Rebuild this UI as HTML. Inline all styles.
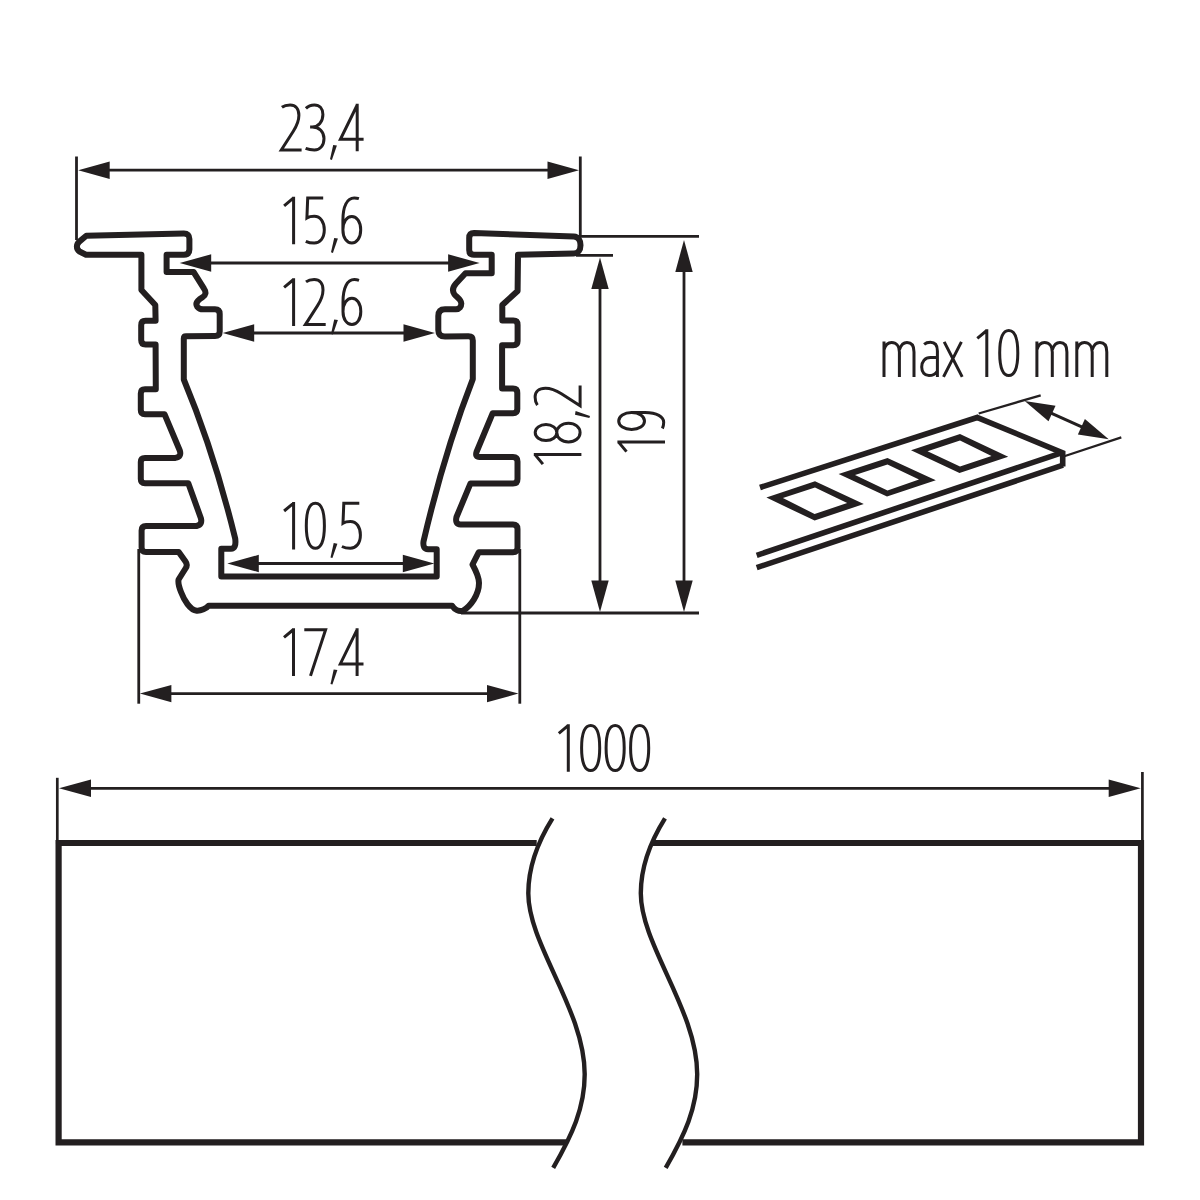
<!DOCTYPE html>
<html><head><meta charset="utf-8"><style>
html,body{margin:0;padding:0;background:#fff;}
svg{display:block;}
</style></head><body>
<svg width="1200" height="1200" viewBox="0 0 1200 1200">
<rect width="1200" height="1200" fill="#fff"/>
<g fill="none" stroke="#231f20" stroke-width="3.0" stroke-linecap="butt" stroke-linejoin="miter" stroke-miterlimit="4">
<path d="M1.4,-44 C3.5,-45.6 6.3,-46.3 9.6,-46.3 C15,-46.3 18.4,-42.5 18.4,-36 C18.4,-30 16,-25 12.8,-20 L0.8,-1.3 L21.1,-1.3" transform="translate(280.5,151.3)"/>
<path d="M1.6,-42.9 C3.8,-45.2 6.8,-46.3 10.1,-46.3 C15.3,-46.3 18.6,-42.5 18.6,-36.8 C18.6,-29.5 14,-24.3 8,-24.3 L5.8,-24.3 M8,-24.3 C15,-24.3 19.7,-19.5 19.7,-12.8 C19.7,-5.8 15.8,-1.3 10.1,-1.3 C6.8,-1.3 3.8,-1.9 1.3,-2.9" transform="translate(304.3,151.3)"/>
<path d="M3.2,-6.4 L6.9,-5.8 L1.9,8.6 L0,8 Z" transform="translate(330,151.3)" fill="#231f20" stroke="none"/>
<path d="M24,-12 L0.8,-12 L17.6,-46.3 M17.6,-47.6 L17.6,0" transform="translate(339.6,151.3)"/>
<path d="M0.8,-38.5 L10.3,-46.4 M10.3,-47.6 L10.3,0" transform="translate(283.3,244.3)"/>
<path d="M17.8,-46.2 L2.3,-46.2 L1.5,-26.3 C3.5,-27.5 6,-28 8.8,-28 C15,-28 18.9,-22.5 18.9,-14.5 C18.9,-6 14.5,-1.3 8.8,-1.3 C5.5,-1.3 2.5,-2 0.4,-3" transform="translate(305.4,244.3)"/>
<path d="M3.2,-6.4 L6.9,-5.8 L1.9,8.6 L0,8 Z" transform="translate(331,244.3)" fill="#231f20" stroke="none"/>
<path d="M17.3,-45.6 C15.8,-46.1 14.3,-46.3 12.6,-46.3 C5.5,-46.3 1.3,-38 1.3,-24 L1.3,-14.5 M10.2,-27.7 C15.2,-27.7 19.1,-22.5 19.1,-14.5 C19.1,-6.5 15.2,-1.3 10.2,-1.3 C5.2,-1.3 1.3,-6.5 1.3,-14.5 C1.3,-22.5 5.2,-27.7 10.2,-27.7 Z" transform="translate(341.6,244.3)"/>
<path d="M0.8,-38.5 L10.3,-46.4 M10.3,-47.6 L10.3,0" transform="translate(283.3,325.9)"/>
<path d="M1.4,-44 C3.5,-45.6 6.3,-46.3 9.6,-46.3 C15,-46.3 18.4,-42.5 18.4,-36 C18.4,-30 16,-25 12.8,-20 L0.8,-1.3 L21.1,-1.3" transform="translate(304.6,325.9)"/>
<path d="M3.2,-6.4 L6.9,-5.8 L1.9,8.6 L0,8 Z" transform="translate(331,325.9)" fill="#231f20" stroke="none"/>
<path d="M17.3,-45.6 C15.8,-46.1 14.3,-46.3 12.6,-46.3 C5.5,-46.3 1.3,-38 1.3,-24 L1.3,-14.5 M10.2,-27.7 C15.2,-27.7 19.1,-22.5 19.1,-14.5 C19.1,-6.5 15.2,-1.3 10.2,-1.3 C5.2,-1.3 1.3,-6.5 1.3,-14.5 C1.3,-22.5 5.2,-27.7 10.2,-27.7 Z" transform="translate(341.7,325.9)"/>
<path d="M0.8,-38.5 L10.3,-46.4 M10.3,-47.6 L10.3,0" transform="translate(283.3,549.5)"/>
<path d="M10.4,-46.3 C15.65,-46.3 19.4,-40 19.4,-23.8 C19.4,-7.6 15.65,-1.3 10.4,-1.3 C5.15,-1.3 1.3,-7.6 1.3,-23.8 C1.3,-40 5.15,-46.3 10.4,-46.3 Z" transform="translate(305,549.5)"/>
<path d="M3.2,-6.4 L6.9,-5.8 L1.9,8.6 L0,8 Z" transform="translate(330.5,549.5)" fill="#231f20" stroke="none"/>
<path d="M17.8,-46.2 L2.3,-46.2 L1.5,-26.3 C3.5,-27.5 6,-28 8.8,-28 C15,-28 18.9,-22.5 18.9,-14.5 C18.9,-6 14.5,-1.3 8.8,-1.3 C5.5,-1.3 2.5,-2 0.4,-3" transform="translate(341.5,549.5)"/>
<path d="M0.8,-38.5 L10.3,-46.4 M10.3,-47.6 L10.3,0" transform="translate(283.2,675.9)"/>
<path d="M0.8,-46.2 L22.1,-46.2 L7,0" transform="translate(303.5,675.9)"/>
<path d="M3.2,-6.4 L6.9,-5.8 L1.9,8.6 L0,8 Z" transform="translate(330.5,675.9)" fill="#231f20" stroke="none"/>
<path d="M24,-12 L0.8,-12 L17.6,-46.3 M17.6,-47.6 L17.6,0" transform="translate(339.5,675.9)"/>
<path d="M0.8,-38.5 L10.3,-46.4 M10.3,-47.6 L10.3,0" transform="translate(558.0,771.8)"/>
<path d="M10.4,-46.3 C15.65,-46.3 19.4,-40 19.4,-23.8 C19.4,-7.6 15.65,-1.3 10.4,-1.3 C5.15,-1.3 1.3,-7.6 1.3,-23.8 C1.3,-40 5.15,-46.3 10.4,-46.3 Z" transform="translate(580.3,771.8)"/>
<path d="M10.4,-46.3 C15.65,-46.3 19.4,-40 19.4,-23.8 C19.4,-7.6 15.65,-1.3 10.4,-1.3 C5.15,-1.3 1.3,-7.6 1.3,-23.8 C1.3,-40 5.15,-46.3 10.4,-46.3 Z" transform="translate(604.8,771.8)"/>
<path d="M10.4,-46.3 C15.65,-46.3 19.4,-40 19.4,-23.8 C19.4,-7.6 15.65,-1.3 10.4,-1.3 C5.15,-1.3 1.3,-7.6 1.3,-23.8 C1.3,-40 5.15,-46.3 10.4,-46.3 Z" transform="translate(629.3,771.8)"/>
<path d="M1.4,0 L1.4,-35.3 M1.4,-27 C3,-32.5 5.8,-34.4 9,-34.4 C13.5,-34.4 16.8,-31 16.8,-25 L16.8,0 M16.8,-27 C18.5,-32.5 21.2,-34.4 24.4,-34.4 C29,-34.4 31.4,-31 31.4,-25 L31.4,0" transform="translate(882.6,376.9)"/>
<path d="M3.7,-32.6 C5.5,-34.1 7.5,-34.6 10,-34.6 C14.5,-34.6 17,-31.5 17,-26 L17,0 M17,-19.4 L10,-19.4 C4.5,-19.4 1.3,-15.5 1.3,-9.8 C1.3,-4.5 4.3,-1.3 8.5,-1.3 C12.5,-1.3 15.5,-3.5 17,-6" transform="translate(920.4,376.9)"/>
<path d="M1,-35 L19,0 M18.2,-35 L0.3,0" transform="translate(943.2,376.9)"/>
<path d="M0.8,-38.5 L10.3,-46.4 M10.3,-47.6 L10.3,0" transform="translate(976.5,376.9)"/>
<path d="M10.4,-46.3 C15.65,-46.3 19.4,-40 19.4,-23.8 C19.4,-7.6 15.65,-1.3 10.4,-1.3 C5.15,-1.3 1.3,-7.6 1.3,-23.8 C1.3,-40 5.15,-46.3 10.4,-46.3 Z" transform="translate(998.4,376.9)"/>
<path d="M1.4,0 L1.4,-35.3 M1.4,-27 C3,-32.5 5.8,-34.4 9,-34.4 C13.5,-34.4 16.8,-31 16.8,-25 L16.8,0 M16.8,-27 C18.5,-32.5 21.2,-34.4 24.4,-34.4 C29,-34.4 31.4,-31 31.4,-25 L31.4,0" transform="translate(1035.5,376.9)"/>
<path d="M1.4,0 L1.4,-35.3 M1.4,-27 C3,-32.5 5.8,-34.4 9,-34.4 C13.5,-34.4 16.8,-31 16.8,-25 L16.8,0 M16.8,-27 C18.5,-32.5 21.2,-34.4 24.4,-34.4 C29,-34.4 31.4,-31 31.4,-25 L31.4,0" transform="translate(1075.4,376.9)"/>
<g transform="translate(581.4,464.9) rotate(-90)"><path d="M0.8,-38.5 L10.3,-46.4 M10.3,-47.6 L10.3,0" transform="translate(0,0)"/>
<path d="M10.7,-46.2 C15.3,-46.2 18.7,-41.5 18.7,-35.4 C18.7,-29.3 15.3,-24.6 10.7,-24.6 C6.1,-24.6 2.7,-29.3 2.7,-35.4 C2.7,-41.5 6.1,-46.2 10.7,-46.2 Z M10.7,-24.6 C16,-24.6 20.1,-19.5 20.1,-12.9 C20.1,-6.3 16,-1.3 10.7,-1.3 C5.4,-1.3 1.3,-6.3 1.3,-12.9 C1.3,-19.5 5.4,-24.6 10.7,-24.6 Z" transform="translate(21.6,0)"/>
<path d="M3.2,-6.4 L6.9,-5.8 L1.9,8.6 L0,8 Z" transform="translate(47,0)" fill="#231f20" stroke="none"/>
<path d="M1.4,-44 C3.5,-45.6 6.3,-46.3 9.6,-46.3 C15,-46.3 18.4,-42.5 18.4,-36 C18.4,-30 16,-25 12.8,-20 L0.8,-1.3 L21.1,-1.3" transform="translate(58.35,0)"/></g>
<g transform="translate(665,452.4) rotate(-90)"><path d="M0.8,-38.5 L10.3,-46.4 M10.3,-47.6 L10.3,0" transform="translate(0,0)"/>
<path d="M9.8,-46.3 C14.7,-46.3 18.3,-40.8 18.3,-33.4 C18.3,-26 14.7,-20.5 9.8,-20.5 C4.9,-20.5 1.3,-26 1.3,-33.4 C1.3,-40.8 4.9,-46.3 9.8,-46.3 Z M18.3,-33.4 L18.3,-20 C18.3,-8 14,-1.3 8.5,-1.3 C6,-1.3 4,-1.8 2.3,-2.6" transform="translate(21.6,0)"/></g>
</g>
<g stroke="#231f20" fill="none" stroke-linecap="butt">
<line x1="76.5" y1="156.5" x2="76.5" y2="240" stroke-width="2.8"/>
<line x1="580.3" y1="156.5" x2="580.3" y2="236.5" stroke-width="2.8"/>
<line x1="100" y1="170.2" x2="560" y2="170.2" stroke-width="2.8"/>
<path d="M78.20,170.20 L109.70,161.50 L109.70,178.90 Z" fill="#231f20" stroke="none"/>
<path d="M579.00,170.20 L547.50,178.90 L547.50,161.50 Z" fill="#231f20" stroke="none"/>
<line x1="205" y1="263" x2="455" y2="263" stroke-width="2.8"/>
<path d="M179.70,263.00 L211.20,254.30 L211.20,271.70 Z" fill="#231f20" stroke="none"/>
<path d="M479.60,263.00 L448.10,271.70 L448.10,254.30 Z" fill="#231f20" stroke="none"/>
<line x1="245" y1="333" x2="415" y2="333" stroke-width="2.8"/>
<path d="M222.70,333.00 L254.20,324.30 L254.20,341.70 Z" fill="#231f20" stroke="none"/>
<path d="M435.00,333.00 L403.50,341.70 L403.50,324.30 Z" fill="#231f20" stroke="none"/>
<line x1="250" y1="563.5" x2="410" y2="563.5" stroke-width="2.8"/>
<path d="M227.30,563.50 L258.80,554.80 L258.80,572.20 Z" fill="#231f20" stroke="none"/>
<path d="M434.30,563.50 L402.80,572.20 L402.80,554.80 Z" fill="#231f20" stroke="none"/>
<line x1="138.75" y1="549" x2="138.75" y2="703.7" stroke-width="2.8"/>
<line x1="519.8" y1="549" x2="519.8" y2="703.7" stroke-width="2.8"/>
<line x1="160" y1="693.6" x2="500" y2="693.6" stroke-width="2.8"/>
<path d="M139.90,693.60 L171.40,684.90 L171.40,702.30 Z" fill="#231f20" stroke="none"/>
<path d="M518.50,693.60 L487.00,702.30 L487.00,684.90 Z" fill="#231f20" stroke="none"/>
<line x1="580" y1="236.3" x2="699" y2="236.3" stroke-width="2.8"/>
<line x1="576" y1="255.4" x2="613" y2="255.4" stroke-width="2.8"/>
<line x1="461" y1="613" x2="699" y2="613" stroke-width="2.8"/>
<line x1="600" y1="270" x2="600" y2="600" stroke-width="2.8"/>
<path d="M600.00,257.60 L608.70,289.10 L591.30,289.10 Z" fill="#231f20" stroke="none"/>
<path d="M600.00,611.90 L591.30,580.40 L608.70,580.40 Z" fill="#231f20" stroke="none"/>
<line x1="684" y1="250" x2="684" y2="600" stroke-width="2.8"/>
<path d="M684.00,239.90 L692.70,271.90 L675.30,271.90 Z" fill="#231f20" stroke="none"/>
<path d="M684.00,611.90 L675.30,580.40 L692.70,580.40 Z" fill="#231f20" stroke="none"/>
<line x1="57.3" y1="777.8" x2="57.3" y2="844" stroke-width="2.7"/>
<line x1="1142.4" y1="772" x2="1142.4" y2="844" stroke-width="2.7"/>
<line x1="80" y1="788.3" x2="1120" y2="788.3" stroke-width="2.8"/>
<path d="M59.00,788.30 L91.00,779.60 L91.00,797.00 Z" fill="#231f20" stroke="none"/>
<path d="M1140.70,788.30 L1108.70,797.00 L1108.70,779.60 Z" fill="#231f20" stroke="none"/>
</g>
<path d="M86,254.7 L79.5,251.5 Q76.8,249.6 76.9,246.4 Q77,243.5 79.3,241.6 L86.3,235.8
L183.8,233.5 Q189.4,233.4 189.4,239 L189.4,249.5 Q189.4,254.7 184,254.7 L166.6,254.7 L166.6,271.9 L193.5,271.9 L204,288.6
Q207.6,294 202.5,297.3 L199.5,299.3 Q194.8,303 197.3,306.8 Q199.3,309.3 203,309.3
L215,309.3 Q219.7,309.3 219.7,314 L219.7,331.5 Q219.7,336.1 215,336.1 L186,336.3 Q183.8,336.3 183.8,338.5 L183.8,379.5
Q214,452 235.2,538.5 Q236.5,548.8 231,548.8 L221.3,548.8 L221.3,576.4 L436.7,576.4 L436.7,549.3 L428,549.3 Q422.6,549.3 423.5,541.5
Q444.4,452 472.8,379.1 L472.8,340.5 Q472.8,336.3 468.5,336.3 L445,336.5 Q438.3,336.5 438.3,330 L438.3,316 Q438.3,309.2 445,309.2 L456,309.2
C459.5,309.2 461.3,306.5 461.3,303.5 C461.3,299.5 456.5,297 454.5,294.5 C452,291 452.5,287.5 456,283.5 L465.5,273.2 L491.7,273.2 L491.7,254.8
L474,254.8 Q469.2,254.8 469.2,250 L469.2,238 Q469.2,233 474,233
L573.8,236.5 C578.5,236.8 580.5,240.5 580.5,245.2 C580.5,250 578,253.4 573.8,253.5
L518,254.7 L517.6,291 L502.3,305 L502.3,320.6 L513.3,320.6 Q517.6,320.6 517.6,325 L517.6,341 Q517.6,345.3 513.2,345.3 L502.1,345.3 L502.1,388.6 L513,388.6 Q517.3,388.6 517.3,393 L517.3,409 Q517.3,413.3 513,413.3 L492.6,413.3 L476.5,452
Q475,457 479.5,457 L513,457 Q517.5,457 517.5,461.5 L517.5,479 Q517.5,483.6 513,483.6 L470.4,483.6 L456.5,517
Q454.8,524.4 460.5,524.4 L513,524.4 Q517.5,524.4 517.5,529 L517.5,547.8 Q517.5,552.3 513,552.3 L478.7,552.3 L472.5,564.5
C475.5,570 479,577 479,583 C479,595 470.5,606 463.3,610.5 C459,612.2 454.5,609.5 452,605.7
L208.7,605.7 C206.5,608.5 201,611 196.7,610.7 C190,610 184,600 181,592 C179,587 177.8,583 178.6,579.5 L185.5,568.5 Q188,565 185.5,561.5 L178.7,552
L146,552 Q141.6,552 141.6,547.5 L141.6,530.5 Q141.6,526 146,526 L196.5,526 Q202.8,524.5 200.8,518 L188.3,483.2
L145,483.2 Q140.8,483.2 140.8,479 L140.8,462 Q140.8,457.9 145,457.9 L175.5,457.9 Q181.8,456.8 179.8,450.5 L164.6,414.3
L145,414.3 Q140.8,414.3 140.8,410 L140.8,393.5 Q140.8,389.2 145,389.2 L155.8,389.2 L155.6,344.4 L145.5,344.4 Q141.2,344.4 141.2,340 L141.2,325.2 Q141.2,320.8 145.5,320.8 L155.6,320.8 L155.3,305 L141.4,290 L141.4,254.7 Z" fill="none" stroke="#231f20" stroke-width="6.0" stroke-linejoin="round"/>
<g stroke="#231f20" fill="none" stroke-linecap="butt">

<path d="M536.7,843 L58.6,843 L58.6,1142.3 L567,1142.3" stroke-width="6.2" fill="none" stroke-linejoin="miter"/>
<path d="M651.7,843 L1141,843 L1141,1142.3 L682.4,1142.3" stroke-width="6.2" fill="none" stroke-linejoin="miter"/>
<path d="M552.5,818.3 C537,843 528.3,870 528.3,893.3 C528.3,945 584.7,1010 584.7,1074.3 C584.7,1108 572,1135 553.2,1167.8" stroke-width="4.4" fill="none"/>
<path d="M665,818.3 C649.5,843 640.8,870 640.8,893.3 C640.8,945 697.2,1010 697.2,1074.3 C697.2,1108 684.5,1135 665.7,1167.8" stroke-width="4.4" fill="none"/>

</g>
<g stroke="#231f20" fill="none" stroke-linecap="butt">
<line x1="760" y1="487.5" x2="978.7" y2="417" stroke-width="5.6"/>
<line x1="756.7" y1="555.3" x2="1060" y2="453.3" stroke-width="5.6"/>
<line x1="756.7" y1="567.6" x2="1063" y2="465.2" stroke-width="5.6"/>
<polyline points="977,417.3 1062.7,452.9 1062.7,466.5" stroke-width="5.6" stroke-linejoin="miter"/>
<line x1="978.7" y1="413.5" x2="1040.7" y2="395.3" stroke-width="2.3"/>
<line x1="1062" y1="457" x2="1121.3" y2="437.3" stroke-width="2.3"/>
<line x1="1050" y1="412.6" x2="1083.4" y2="427.7" stroke-width="3"/>
</g>
<g fill="#231f20" fill-rule="evenodd">
<path d="M1024.70,401.10 L1055.53,405.75 L1048.51,421.23 Z"/>
<path d="M1108.70,439.20 L1077.87,434.55 L1084.89,419.07 Z"/>
<path d="M766.4,497.6 L815,481.2 L863.8,504 L814.6,520.6 Z M782.9,498 L815,487.5 L847.2,503 L814.6,514 Z"/>
<path d="M838.6,474 L887.5,457.9 L935.8,480.2 L887,496.6 Z M855,475 L887.5,464.5 L919,479.5 L887.5,490.5 Z"/>
<path d="M911,450.3 L960,434.1 L1008.2,456.8 L959.5,473.1 Z M927.5,451.3 L960,440.5 L991.5,456 L960,466.5 Z"/>

</g>

</svg>
</body></html>
